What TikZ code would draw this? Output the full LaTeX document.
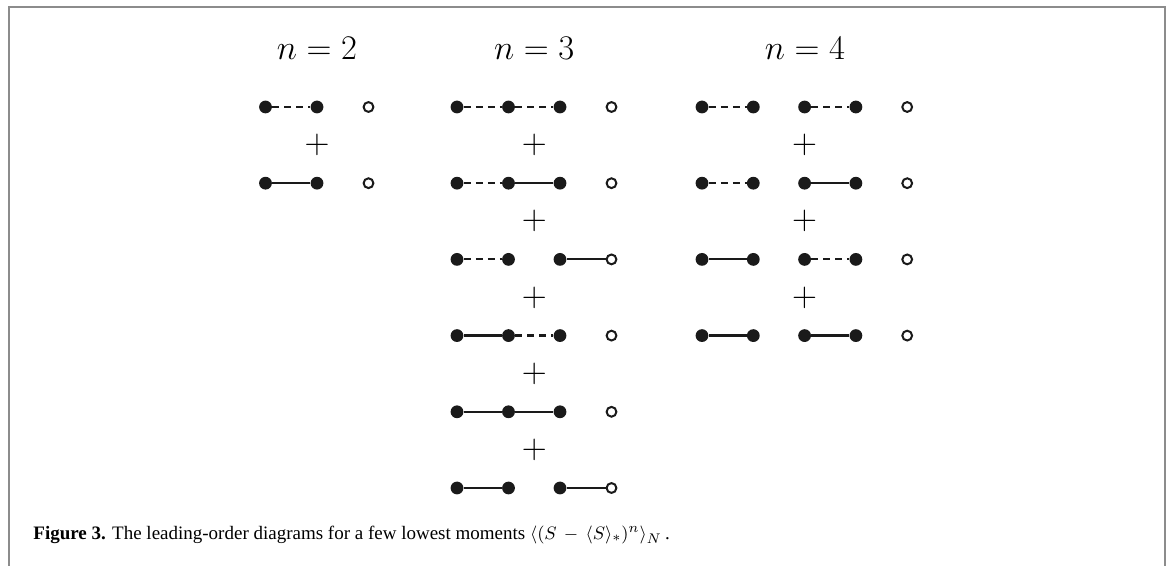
\documentclass[tikz,border=0pt]{standalone}
\usepackage{fontspec}
\setmainfont{Liberation Serif}
\usepackage{xcolor}
\definecolor{cInk}{HTML}{1A1A1A}
\definecolor{cFrame}{HTML}{8C8C8C}
\usepackage{tikz}
\usetikzlibrary{positioning}
\tikzset{
  vtx-full/.style={circle,fill=cInk,inner sep=0pt,minimum size=6.4pt},
  vtx-open/.style={circle,draw=cInk,line width=1pt,fill=white,
    inner sep=0pt,minimum size=4.9pt},
  link-solid/.style={draw=cInk,line width=1.1pt},
  link-dash/.style={draw=cInk,line width=1.1pt,dash pattern=on 3.4pt off 2.6pt},
  lbl-title/.style={font=\fontsize{16.5}{20}\selectfont,anchor=base},
  lbl-plus/.style={font=\fontsize{16.5}{20}\selectfont,inner sep=0pt},
  frame-line/.style={draw=cFrame,line width=0.8pt},
}

\begin{document}
\begin{tikzpicture}[x=0.5pt,y=-0.5pt]
  \useasboundingbox (0,0) rectangle (1168,566);
  \draw[frame-line] (9,566) |- (1165,7) -- (1165,566);

  % column titles
  \node[lbl-title] (t2) at (317,60) {$n=2$};
  \node[lbl-title] (t3) at (534.25,60) {$n=3$};
  \node[lbl-title] (t4) at (805,60) {$n=4$};

  % n = 2
  \foreach \r in {1,2} {
    \foreach \c in {1,2}
      \node[vtx-full] (a\r-\c) at ({265.5+51.5*(\c-1)},{107+76.2*(\r-1)}) {};
    \node[vtx-open] (a\r-3) at (368.5,{107+76.2*(\r-1)}) {};
  }
  \node[lbl-plus] (pa1) at (317,145.1) {$+$};
  \draw[link-dash]  (a1-1) -- (a1-2);
  \draw[link-solid] (a2-1) -- (a2-2);

  % n = 3
  \foreach \r in {1,...,6} {
    \foreach \c in {1,2,3}
      \node[vtx-full] (b\r-\c) at ({457+51.5*(\c-1)},{107+76.2*(\r-1)}) {};
    \node[vtx-open] (b\r-4) at (611.5,{107+76.2*(\r-1)}) {};
  }
  \foreach \r in {1,...,5}
    \node[lbl-plus] (pb\r) at (534.25,{145.1+76.2*(\r-1)}) {$+$};
  \draw[link-dash]  (b1-1) -- (b1-2);
  \draw[link-dash]  (b1-2) -- (b1-3);
  \draw[link-dash]  (b2-1) -- (b2-2);
  \draw[link-solid] (b2-2) -- (b2-3);
  \draw[link-dash]  (b3-1) -- (b3-2);
  \draw[link-solid] (b3-3) -- (b3-4);
  \draw[link-solid] (b4-1) -- (b4-2);
  \draw[link-dash]  (b4-2) -- (b4-3);
  \draw[link-solid] (b5-1) -- (b5-2);
  \draw[link-solid] (b5-2) -- (b5-3);
  \draw[link-solid] (b6-1) -- (b6-2);
  \draw[link-solid] (b6-3) -- (b6-4);

  % n = 4
  \foreach \r in {1,...,4} {
    \foreach \c in {1,...,4}
      \node[vtx-full] (c\r-\c) at ({702+51.3*(\c-1)},{107+76.2*(\r-1)}) {};
    \node[vtx-open] (c\r-5) at (907.2,{107+76.2*(\r-1)}) {};
  }
  \foreach \r in {1,2,3}
    \node[lbl-plus] (pc\r) at (804.6,{145.1+76.2*(\r-1)}) {$+$};
  \draw[link-dash]  (c1-1) -- (c1-2);
  \draw[link-dash]  (c1-3) -- (c1-4);
  \draw[link-dash]  (c2-1) -- (c2-2);
  \draw[link-solid] (c2-3) -- (c2-4);
  \draw[link-solid] (c3-1) -- (c3-2);
  \draw[link-dash]  (c3-3) -- (c3-4);
  \draw[link-solid] (c4-1) -- (c4-2);
  \draw[link-solid] (c4-3) -- (c4-4);

  % caption
  \node[anchor=base west,inner sep=0pt,font=\fontsize{9.5}{11}\selectfont] (cap)
    at (33,540) {\textbf{Figure 3.} The leading-order diagrams for a few lowest
    moments $\langle (S\,-\,\langle S\rangle_{*})^{n}\rangle_{N}$\,.};
\end{tikzpicture}
\end{document}
